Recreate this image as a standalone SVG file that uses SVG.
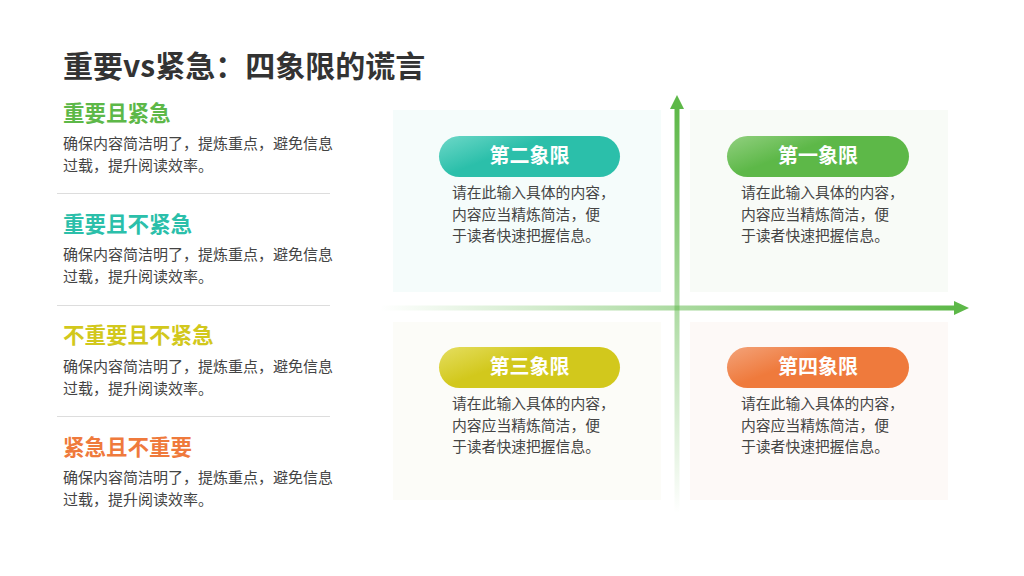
<svg xmlns="http://www.w3.org/2000/svg" width="1024" height="576" viewBox="0 0 1024 576">
<style>
text{font-family:"Noto Sans CJK SC","Liberation Sans",sans-serif}
.t{font-size:30px;font-weight:bold;fill:#333}
.h{font-size:21.5px;font-weight:bold}
.b{font-size:15px;fill:#444}
.q{font-size:14.8px;fill:#444}
.pl{font-size:20px;font-weight:bold;fill:#fff;text-anchor:middle}
.d{stroke:#ddd;stroke-width:1}
</style>
<defs>
<linearGradient id="g2" x1="0" y1="0" x2="1" y2="0.6"><stop offset="0" stop-color="#6ed8c8"/><stop offset="0.45" stop-color="#2bbfaa"/></linearGradient>
<linearGradient id="g1" x1="0" y1="0" x2="1" y2="0.6"><stop offset="0" stop-color="#92d080"/><stop offset="0.45" stop-color="#5db848"/></linearGradient>
<linearGradient id="g3" x1="0" y1="0" x2="1" y2="0.6"><stop offset="0" stop-color="#e5de60"/><stop offset="0.45" stop-color="#d2c81c"/></linearGradient>
<linearGradient id="g4" x1="0" y1="0" x2="1" y2="0.6"><stop offset="0" stop-color="#f3a37a"/><stop offset="0.45" stop-color="#ef7a3c"/></linearGradient>
<linearGradient id="ah" x1="0" y1="0" x2="1" y2="0"><stop offset="0" stop-color="#5db848" stop-opacity="0"/><stop offset="1" stop-color="#5db848"/></linearGradient>
<linearGradient id="av" x1="0" y1="1" x2="0" y2="0"><stop offset="0" stop-color="#5db848" stop-opacity="0"/><stop offset="1" stop-color="#5db848"/></linearGradient>
</defs>
<text class="t" x="63" y="77">重要vs紧急：四象限的谎言</text>
<g id="left1"><text class="h" x="63" y="121" fill="#5db848">重要且紧急</text><text class="b" x="63" y="149">确保内容简洁明了，提炼重点，避免信息</text><text class="b" x="63" y="171">过载，提升阅读效率。</text></g>
<line class="d" x1="57" y1="193.5" x2="330" y2="193.5"/>
<g id="left2"><text class="h" x="63" y="232" fill="#2bbfaa">重要且不紧急</text><text class="b" x="63" y="260">确保内容简洁明了，提炼重点，避免信息</text><text class="b" x="63" y="282">过载，提升阅读效率。</text></g>
<line class="d" x1="57" y1="305.5" x2="330" y2="305.5"/>
<g id="left3"><text class="h" x="63" y="343" fill="#d2c81c">不重要且不紧急</text><text class="b" x="63" y="372">确保内容简洁明了，提炼重点，避免信息</text><text class="b" x="63" y="394">过载，提升阅读效率。</text></g>
<line class="d" x1="57" y1="416.5" x2="330" y2="416.5"/>
<g id="left4"><text class="h" x="63" y="455" fill="#ef7a3c">紧急且不重要</text><text class="b" x="63" y="483">确保内容简洁明了，提炼重点，避免信息</text><text class="b" x="63" y="505">过载，提升阅读效率。</text></g>
<g id="q2"><rect x="393" y="110" width="268" height="182" fill="#f5fcfb"/><rect x="439" y="136" width="181" height="41" rx="20.5" fill="url(#g2)"/><text class="pl" x="529.5" y="163">第二象限</text><text class="q" x="452" y="198">请在此输入具体的内容，</text><text class="q" x="452" y="220">内容应当精炼简洁，便</text><text class="q" x="452" y="241">于读者快速把握信息。</text></g>
<g id="q1"><rect x="690" y="110" width="258" height="182" fill="#f8fbf7"/><rect x="727" y="136" width="182" height="41" rx="20.5" fill="url(#g1)"/><text class="pl" x="818" y="163">第一象限</text><text class="q" x="741" y="198">请在此输入具体的内容，</text><text class="q" x="741" y="220">内容应当精炼简洁，便</text><text class="q" x="741" y="241">于读者快速把握信息。</text></g>
<g id="q3"><rect x="393" y="322" width="268" height="178" fill="#fcfcf8"/><rect x="439" y="347" width="181" height="41" rx="20.5" fill="url(#g3)"/><text class="pl" x="529.5" y="374">第三象限</text><text class="q" x="452" y="409">请在此输入具体的内容，</text><text class="q" x="452" y="431">内容应当精炼简洁，便</text><text class="q" x="452" y="452">于读者快速把握信息。</text></g>
<g id="q4"><rect x="690" y="322" width="258" height="178" fill="#fdf9f7"/><rect x="727" y="347" width="182" height="41" rx="20.5" fill="url(#g4)"/><text class="pl" x="818" y="374">第四象限</text><text class="q" x="741" y="409">请在此输入具体的内容，</text><text class="q" x="741" y="431">内容应当精炼简洁，便</text><text class="q" x="741" y="452">于读者快速把握信息。</text></g>
<g id="connectors">
<rect x="380" y="305.5" width="575" height="5" fill="url(#ah)"/>
<polygon points="954,301 969,308 954,315" fill="#5db848"/>
<rect x="674.5" y="108" width="5" height="405" fill="url(#av)"/>
<polygon points="670,109 677,95 684,109" fill="#5db848"/>
</g>
</svg>
